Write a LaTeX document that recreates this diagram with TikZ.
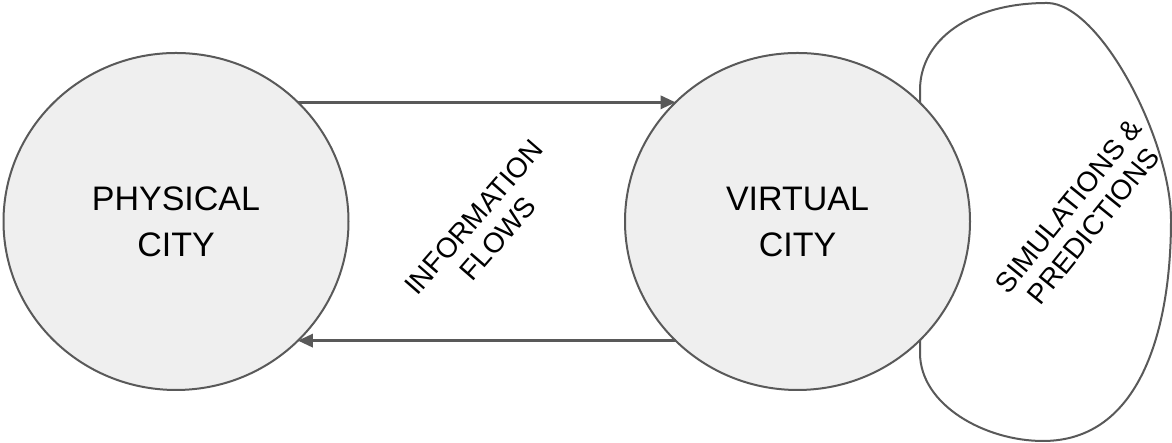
\documentclass[tikz,border=0pt]{standalone}
\usepackage{fontspec}
\setmainfont{Liberation Sans}
\usetikzlibrary{arrows.meta,shapes.geometric}
\definecolor{cityfill}{HTML}{EFEFEF}
\definecolor{lineclr}{HTML}{595959}
\begin{document}
\begin{tikzpicture}[x=0.3pt,y=-0.3pt,
  city/.style={draw=lineclr,line width=0.6pt,fill=cityfill,ellipse,inner sep=0pt,outer sep=0pt,minimum width=103.5pt,minimum height=101.1pt,align=center,font=\fontsize{10.2}{13.8}\selectfont},
  flow/.style={draw=lineclr,line width=0.75pt,-{Triangle[length=4.5pt,width=4pt]}},
  tilted/.style={align=center,font=\fontsize{8.4}{9.6}\selectfont}]
  \useasboundingbox (0,0) rectangle (1172,443);
  % outcome blob, partly hidden by the virtual city
  \draw[lineclr,line width=0.6pt,fill=white] (920,353) -- (920,90)
    .. controls (920,40) and (970,3) .. (1047,3)
    .. controls (1100,3) and (1171,140) .. (1171,220)
    .. controls (1171,330) and (1140,441) .. (1043,441)
    .. controls (985,441) and (920,405) .. (920,353) -- cycle;
  \node[city] (physical) at (176,221.5) {PHYSICAL\\CITY};
  \node[city] (virtual) at (797.5,221.5) {VIRTUAL\\CITY};
  \node[tilted,rotate=49] (flows) at (486,228) {INFORMATION\\FLOWS};
  \node[tilted,rotate=51] (sims) at (1081,216) {SIMULATIONS \&\\PREDICTIONS};
  \draw[flow] (physical.north east) -- (virtual.north west);
  \draw[flow] (virtual.south west) -- (physical.south east);
\end{tikzpicture}
\end{document}
